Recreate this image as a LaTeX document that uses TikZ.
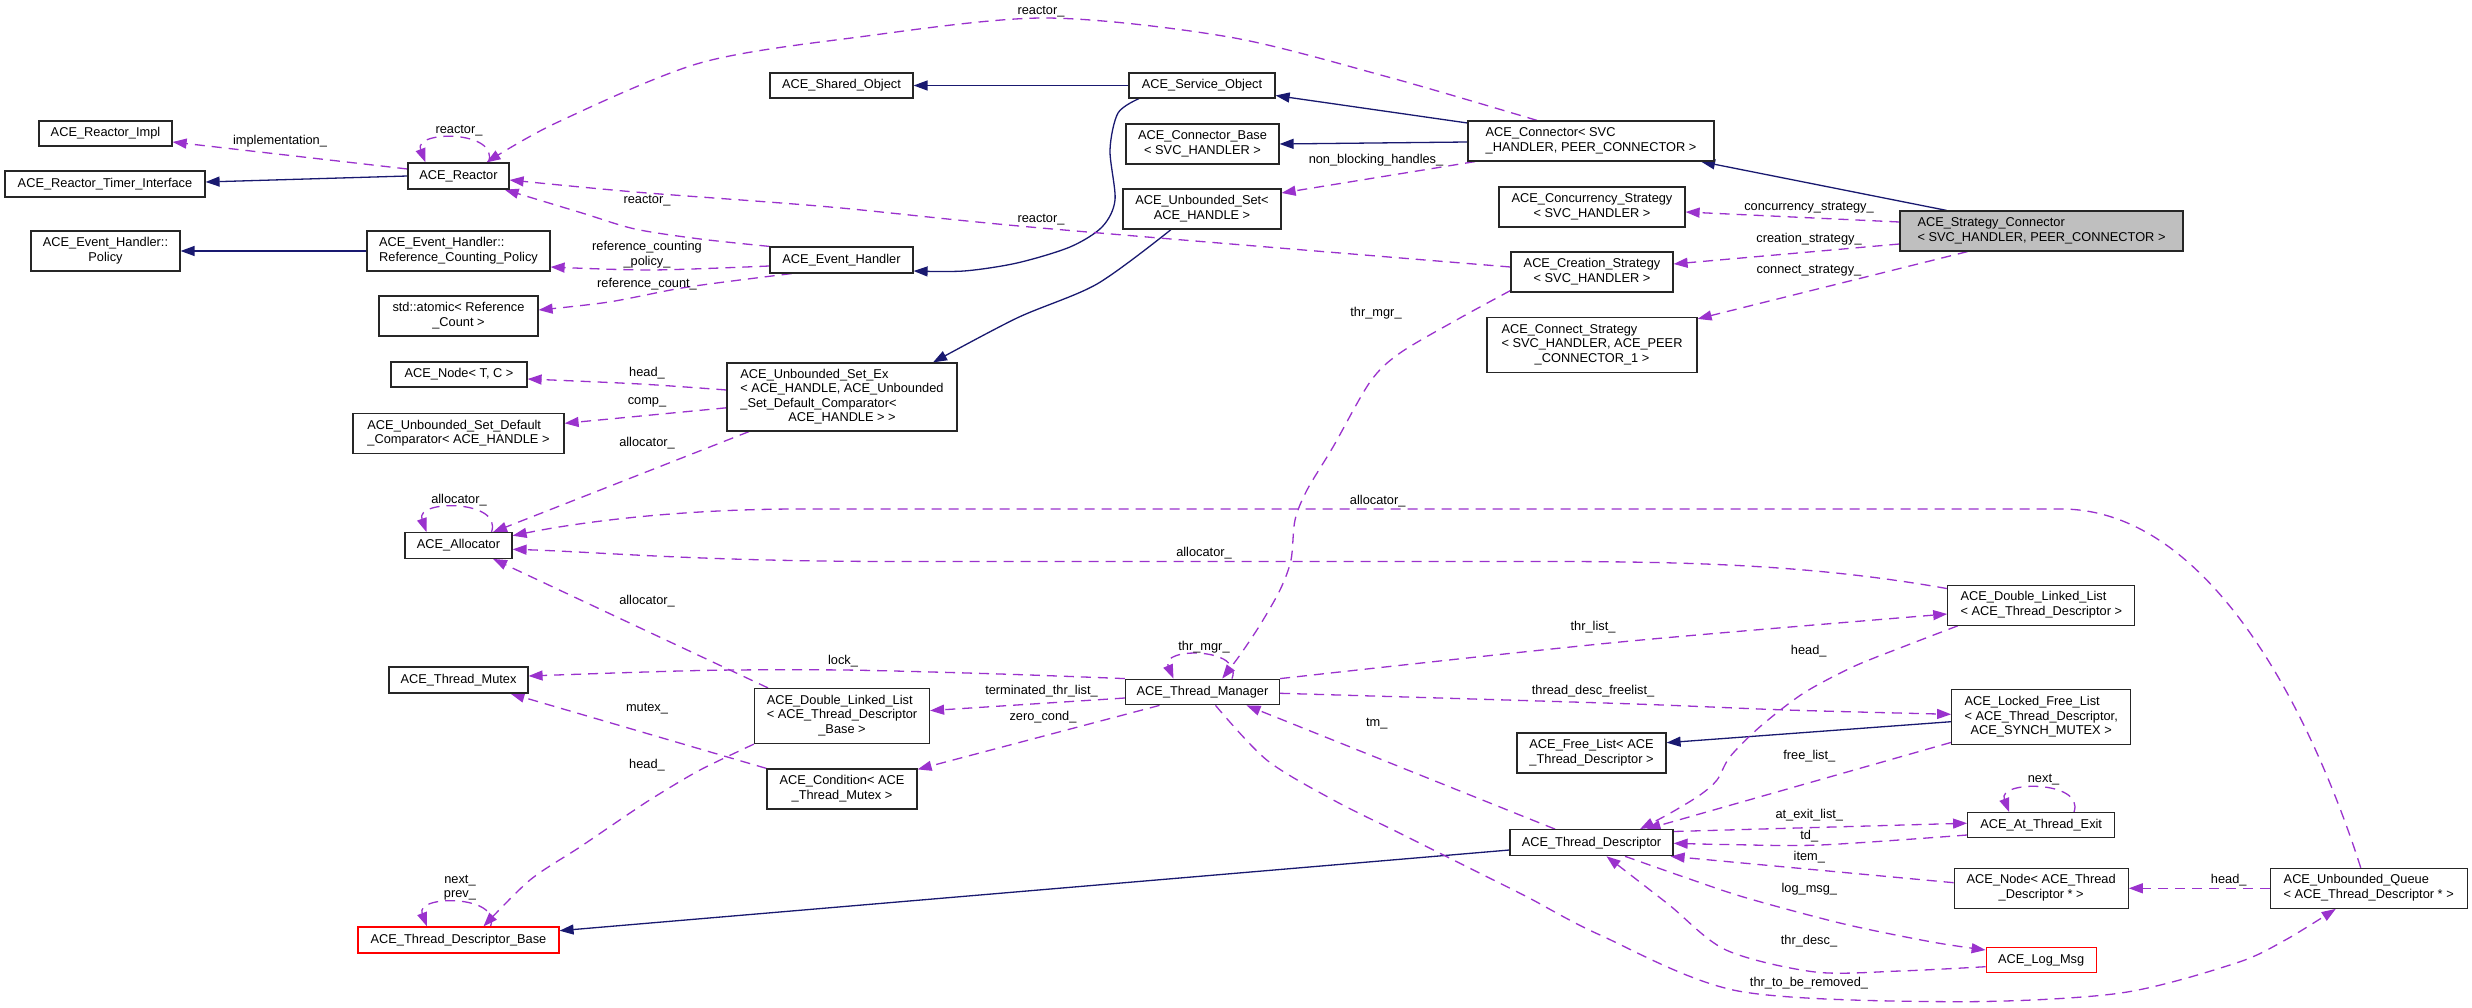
\documentclass[tikz,border=0pt]{standalone}
\usepackage{fontspec}
\setmainfont{Liberation Sans}
\usetikzlibrary{arrows.meta}
\definecolor{navyb}{HTML}{191970}
\definecolor{orch}{HTML}{9A32CD}
\newcommand{\twol}[2]{\begin{tabular}{@{}l@{}}#1\\\multicolumn{1}{@{}c@{}}{#2}\end{tabular}}
\newcommand{\fsz}{\fontsize{12.8}{14.5}\selectfont}
\pgfdeclarelayer{back}
\pgfdeclarelayer{bg}
\pgfsetlayers{back,bg,main}
\begin{document}
\begin{tikzpicture}[x=1pt,y=-1pt,
 cls/.style={draw=black!85, line width=1.2pt, fill=white, inner sep=0pt, font=\fsz},
 bx/.style 2 args={cls, minimum width=#1pt, minimum height=#2pt},
 inh/.style={draw=navyb, line width=1.3pt, -{Triangle[length=14pt,width=10pt]}},
 usg/.style={draw=orch, line width=1.3pt, dash pattern=on 10pt off 7pt, -{Triangle[length=14pt,width=10pt]}},
 lbl/.style={font=\fsz, inner sep=0pt, align=center}]
\begin{pgfonlayer}{back}
\fill[white] (0,0) rectangle (2472,1008);
\end{pgfonlayer}
\useasboundingbox (0,0) rectangle (2472,1008);

% ---------- nodes ----------
\node[bx={133}{25}] (rimpl) at (105.5,133.5) {ACE\_Reactor\_Impl};
\node[bx={200}{26}] (timer) at (105,184) {ACE\_Reactor\_Timer\_Interface};
\node[bx={101}{26}] (reactor) at (458.5,176) {ACE\_Reactor};
\node[bx={149}{40}] (policy) at (105.5,251) {\twol{ACE\_Event\_Handler::}{Policy}};
\node[bx={183}{40}] (rcp) at (458.5,251) {\twol{ACE\_Event\_Handler::}{Reference\_Counting\_Policy}};
\node[bx={159}{40}] (atomic) at (458.5,316) {\twol{std::atomic< Reference}{\_Count >}};
\node[bx={136}{25}] (nodetc) at (459,374.5) {ACE\_Node< T, C >};
\node[bx={211}{40}] (defcomp) at (458.5,433.8) {\twol{ACE\_Unbounded\_Set\_Default}{\_Comparator< ACE\_HANDLE >}};
\node[bx={107}{25.6}] (alloc) at (458.5,545.5) {ACE\_Allocator};
\node[bx={139}{26}] (mutex) at (458.5,680) {ACE\_Thread\_Mutex};
\node[bx={201}{26}, draw=red] (tdb) at (458.5,940) {ACE\_Thread\_Descriptor\_Base};
\node[bx={143}{25}] (shared) at (841.5,85.5) {ACE\_Shared\_Object};
\node[bx={146}{25}] (service) at (1202,85.5) {ACE\_Service\_Object};
\node[bx={153}{40}] (connbase) at (1202.5,144) {\twol{ACE\_Connector\_Base}{< SVC\_HANDLER >}};
\node[bx={158}{40}] (uset) at (1202,209) {\twol{ACE\_Unbounded\_Set<}{ACE\_HANDLE >}};
\node[bx={143}{26}] (eh) at (841.5,260) {ACE\_Event\_Handler};
\node[bx={230}{68}] (setex) at (842,397) {\twol{ACE\_Unbounded\_Set\_Ex\\< ACE\_HANDLE, ACE\_Unbounded\\\_Set\_Default\_Comparator<}{ACE\_HANDLE > >}};
\node[bx={175}{55}] (dlltdb) at (842,716) {\twol{ACE\_Double\_Linked\_List\\< ACE\_Thread\_Descriptor}{\_Base >}};
\node[bx={150}{40}] (cond) at (842,789) {\twol{ACE\_Condition< ACE}{\_Thread\_Mutex >}};
\node[bx={154}{25.6}] (tm) at (1202.5,692) {ACE\_Thread\_Manager};
\node[bx={246}{40}] (connector) at (1591,141) {\twol{ACE\_Connector< SVC}{\_HANDLER, PEER\_CONNECTOR >}};
\node[bx={186}{40}] (concur) at (1592,207) {\twol{ACE\_Concurrency\_Strategy}{< SVC\_HANDLER >}};
\node[bx={283}{40}, fill=black!25] (sc) at (2041.5,231) {\twol{ACE\_Strategy\_Connector}{< SVC\_HANDLER, PEER\_CONNECTOR >}};
\node[bx={162}{40}] (creation) at (1592,272) {\twol{ACE\_Creation\_Strategy}{< SVC\_HANDLER >}};
\node[bx={210}{55}] (connect) at (1592,345) {\twol{ACE\_Connect\_Strategy\\< SVC\_HANDLER, ACE\_PEER}{\_CONNECTOR\_1 >}};
\node[bx={149}{40}] (freelist) at (1591.5,753) {\twol{ACE\_Free\_List< ACE}{\_Thread\_Descriptor >}};
\node[bx={163}{26}] (td) at (1591.5,842.7) {ACE\_Thread\_Descriptor};
\node[bx={187}{40}] (dlltd) at (2041.3,605.2) {\twol{ACE\_Double\_Linked\_List}{< ACE\_Thread\_Descriptor >}};
\node[bx={179}{55}] (lfl) at (2041.2,717.3) {\twol{ACE\_Locked\_Free\_List\\< ACE\_Thread\_Descriptor,}{ACE\_SYNCH\_MUTEX >}};
\node[bx={147}{25}] (ate) at (2041.2,825.2) {ACE\_At\_Thread\_Exit};
\node[bx={174}{40}] (nodetd) at (2041.2,888.3) {\twol{ACE\_Node< ACE\_Thread}{\_Descriptor * >}};
\node[bx={197}{40}] (queue) at (2368.7,888.3) {\twol{ACE\_Unbounded\_Queue}{< ACE\_Thread\_Descriptor * >}};
\node[bx={110}{25.4}, draw=red] (logmsg) at (2041.2,960) {ACE\_Log\_Msg};

% ---------- labels ----------
\node[lbl] (l01) at (280,141) {implementation\_};
\node[lbl] (l02) at (459,131) {reactor\_};
\node[lbl] (l03) at (1041,12) {reactor\_};
\node[lbl] (l04) at (647,201) {reactor\_};
\node[lbl] (l05) at (1041,220) {reactor\_};
\node[lbl] (l06) at (647,254.5) {reference\_counting\\\_policy\_};
\node[lbl] (l07) at (647,284) {reference\_count\_};
\node[lbl] (l08) at (1376,160) {non\_blocking\_handles\_};
\node[lbl] (l09) at (1809,208) {concurrency\_strategy\_};
\node[lbl] (l10) at (1809,239) {creation\_strategy\_};
\node[lbl] (l11) at (1809,271) {connect\_strategy\_};
\node[lbl] (l12) at (1376,313) {thr\_mgr\_};
\node[lbl] (l13) at (647,373) {head\_};
\node[lbl] (l14) at (647,402) {comp\_};
\node[lbl] (l15) at (647,443) {allocator\_};
\node[lbl] (l16) at (459,500) {allocator\_};
\node[lbl] (l17) at (1377.7,500.7) {allocator\_};
\node[lbl] (l18) at (1204,552.7) {allocator\_};
\node[lbl] (l19) at (647,601) {allocator\_};
\node[lbl] (l20) at (1204,647.3) {thr\_mgr\_};
\node[lbl] (l21) at (843,661) {lock\_};
\node[lbl] (l22) at (1593,626.7) {thr\_list\_};
\node[lbl] (l23) at (1593,690.7) {thread\_desc\_freelist\_};
\node[lbl] (l24) at (1041.5,690.8) {terminated\_thr\_list\_};
\node[lbl] (l25) at (647,709) {mutex\_};
\node[lbl] (l26) at (1043,717.6) {zero\_cond\_};
\node[lbl] (l27) at (1376.7,723.3) {tm\_};
\node[lbl] (l28) at (1808.7,650.7) {head\_};
\node[lbl] (l29) at (1809.3,756) {free\_list\_};
\node[lbl] (l30) at (647,765) {head\_};
\node[lbl] (l31) at (2043.5,780) {next\_};
\node[lbl] (l32) at (1809.3,815) {at\_exit\_list\_};
\node[lbl] (l33) at (1809.3,835.7) {td\_};
\node[lbl] (l34) at (1809.3,856.7) {item\_};
\node[lbl] (l35) at (460,887.5) {next\_\\prev\_};
\node[lbl] (l36) at (2228.7,880) {head\_};
\node[lbl] (l37) at (1809.3,889) {log\_msg\_};
\node[lbl] (l38) at (1809,941) {thr\_desc\_};
\node[lbl] (l39) at (1809,982.8) {thr\_to\_be\_removed\_};

% ---------- edges ----------
\begin{pgfonlayer}{bg}
% inheritance
\draw[inh] (reactor.west) -- ([yshift=2pt]timer.east);
\draw[inh] (rcp.west) -- (policy.east);
\draw[inh] (service.west) -- (shared.east);
\draw[inh] plot[smooth] coordinates {([xshift=-63pt]service.south) (1118,113) (1110,150) (1115,200) (1102,227) (1070,247) (1017,263) (964,271) ([yshift=-11pt]eh.east)};
\draw[inh] ([yshift=18pt]connector.west) -- ([yshift=-10pt]service.east);
\draw[inh] ([yshift=-1pt]connector.west) -- (connbase.east);
\draw[inh] ([xshift=-95pt]sc.north) -- ([xshift=110pt]connector.south);
\draw[inh] plot[smooth] coordinates {([xshift=-31pt]uset.south) (1097,284) (1017,318) ([xshift=91pt]setex.north)};
\draw[inh] ([yshift=-4.4pt]lfl.west) -- ([yshift=10.3pt]freelist.east);
\draw[inh] ([yshift=-7.3pt]td.west) -- ([yshift=9.3pt]tdb.east);
% usage
\draw[usg] ([yshift=7pt]reactor.west) -- ([yshift=-8.5pt]rimpl.east);
\draw[usg] ([xshift=30pt]reactor.north) .. controls (500,130) and (413,130) .. ([xshift=-33pt]reactor.north);
\draw[usg] plot[smooth] coordinates {([xshift=-54pt]connector.north) (1388,77) (1229,37) (1044,18) (859,37) (700,63) (556,123) ([xshift=28pt]reactor.north)};
\draw[usg] plot[smooth] coordinates {([yshift=5pt]creation.west) (1041,228) (830,207) (635,192) ([yshift=-4pt]reactor.east)};
\draw[usg] plot[smooth] coordinates {(eh.north west) (700,239) (635,229) (582,213) ([xshift=-5pt]reactor.south east)};
\draw[usg] plot[smooth] coordinates {([yshift=-6pt]eh.west) (651,270) ([yshift=-16pt]rcp.east)};
\draw[usg] plot[smooth] coordinates {([xshift=-50pt]eh.south) (688,287) (609,302) ([yshift=6pt]atomic.east)};
\draw[usg] ([xshift=-116pt]connector.south) -- ([yshift=16pt]uset.east);
\draw[usg] ([yshift=9pt]sc.west) -- ([yshift=-5pt]concur.east);
\draw[usg] ([yshift=-13pt]sc.west) -- ([yshift=8pt]creation.east);
\draw[usg] ([xshift=-74pt]sc.south) -- ([yshift=-2pt]connect.north east);
\draw[usg] plot[smooth] coordinates {([yshift=2pt]creation.south west) (1460,318) (1400,353) (1370,382) (1333,447) (1307,490) (1295,520) (1291,560) (1280,590) (1260,625) (1240,655) ([xshift=19.7pt]tm.north)};
\draw[usg] plot[smooth] coordinates {([yshift=7pt]setex.west) (640,384) ([yshift=-4.5pt]nodetc.east)};
\draw[usg] ([yshift=-10.8pt]setex.west) -- ([yshift=10.5pt]defcomp.east);
\draw[usg] ([xshift=-93pt]setex.south) -- ([xshift=34.5pt]alloc.north);
\draw[usg] ([xshift=33pt]alloc.north) .. controls (503,499.4) and (415,499.4) .. ([xshift=-32pt]alloc.north);
\draw[usg] ([xshift=-8pt]queue.north) .. controls (2320,740) and (2220,509) .. (2061,509) -- (800,509) .. controls (680,509) and (580,522) .. ([yshift=9.8pt]alloc.east);
\draw[usg] ([yshift=-4pt]dlltd.north west) .. controls (1820,566) and (1700,561.5) .. (1550,561.5) -- (900,561.5) .. controls (700,561.5) and (600,552) .. ([yshift=-3.8pt]alloc.east);
\draw[usg] ([xshift=-74pt]dlltdb.north) -- ([xshift=34.5pt]alloc.south);
\draw[usg] plot[smooth] coordinates {(tm.north west) (1000,674) (843,670) (700,670.5) ([yshift=4pt]mutex.east)};
\draw[usg] (cond.north west) -- ([xshift=52pt]mutex.south);
\draw[usg] plot[smooth] coordinates {(dlltdb.south west) (700,770) (656,796) (630,813) (580,847) (530,880) ([xshift=25pt]tdb.north)};
\draw[usg] ([xshift=32pt]tdb.north) .. controls (502,894.6) and (415,894.6) .. ([xshift=-31.5pt]tdb.north);
\draw[usg] ([yshift=-6pt]tm.west) -- ([yshift=5.4pt]dlltdb.east);
\draw[usg] ([xshift=-43pt]tm.south) -- ([yshift=-1pt]cond.north east);
\draw[usg] ([xshift=29.5pt]tm.north) .. controls (1244,647) and (1160,647) .. ([xshift=-29pt]tm.north);
\draw[usg] plot[smooth] coordinates {(tm.north east) (1620,642) ([yshift=-8.8pt]dlltd.west)};
\draw[usg] plot[smooth] coordinates {([yshift=-1.3pt]tm.east) (1620,703.5) (1786.7,710) ([yshift=3pt]lfl.west)};
\draw[usg] ([xshift=-36.5pt]td.north) -- ([xshift=44pt]tm.south);
\draw[usg] plot[smooth] coordinates {([xshift=13pt]tm.south) (1266.7,760) (1333.3,800) (1400,833.3) (1466.7,866.7) (1526.7,896.7) (1600,935) (1738,991) (1952,1001.7) (2118.7,993.3) (2235.3,963.3) (2285.3,940) ([xshift=-33pt]queue.south)};
\draw[usg] plot[smooth] coordinates {([xshift=10.6pt]dlltd.south west) (1903.3,646.7) (1853.3,666.7) (1803.3,693.3) (1760,726.7) (1730,756.7) (1717,780) (1700,795) (1670,813.3) ([xshift=48.5pt]td.north)};
\draw[usg] ([yshift=3pt]lfl.south west) -- ([xshift=55pt]td.north);
\draw[usg] ([yshift=-2.4pt]td.north east) -- ([yshift=2pt]ate.west);
\draw[usg] plot[smooth] coordinates {([yshift=-9.8pt]ate.west) (1820,845) (1726,844.5) ([yshift=-0.6pt]td.east)};
\draw[usg] ([xshift=32.8pt]ate.north) .. controls (2085,780.2) and (1997,780.2) .. ([xshift=-32pt]ate.north);
\draw[usg] ([yshift=5.6pt]nodetd.west) -- ([xshift=-3pt]td.south east);
\draw[usg] plot[smooth] coordinates {([xshift=33.5pt]td.south) (1686.7,878) (1746.7,898) (1844,924) (1932,942) ([yshift=10pt]logmsg.west)};
\draw[usg] plot[smooth] coordinates {([yshift=-6.7pt]logmsg.west) (1900,971) (1815,972) (1726,950) (1668,904) ([xshift=15pt]td.south)};
\draw[usg] (queue.west) -- (nodetd.east);
\end{pgfonlayer}
\end{tikzpicture}
\end{document}
